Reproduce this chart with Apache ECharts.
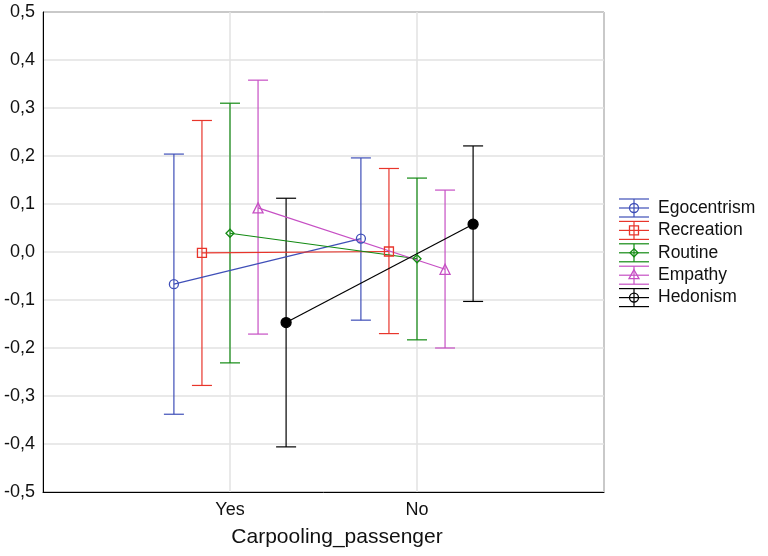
<!DOCTYPE html>
<html>
<head>
<meta charset="utf-8">
<script src="https://cdn.jsdelivr.net/npm/echarts@6/dist/echarts.min.js"></script>
<style>
  html, body { margin: 0; padding: 0; background: #fff; }
  #chart { width: 768px; height: 556px; }
</style>
</head>
<body>
<div id="chart"></div>
<script>
// Group levels on the horizontal axis
const categories = ['Yes', 'No'];
const axisTitle = 'Carpooling_passenger';

// Factor scores: mean and confidence limits for each group (Yes, No)
const seriesNames = ['Egocentrism', 'Recreation', 'Routine', 'Empathy', 'Hedonism'];
const egocentrismMean  = [-0.067, 0.028];
const egocentrismLow   = [-0.338, -0.142];
const egocentrismHigh  = [0.204, 0.196];
const recreationMean   = [-0.002, 0.001];
const recreationLow    = [-0.278, -0.170];
const recreationHigh   = [0.274, 0.174];
const routineMean      = [0.039, -0.014];
const routineLow       = [-0.231, -0.183];
const routineHigh      = [0.310, 0.154];
const empathyMean      = [0.092, -0.036];
const empathyLow       = [-0.171, -0.200];
const empathyHigh      = [0.358, 0.129];
const hedonismMean     = [-0.147, 0.058];
const hedonismLow      = [-0.406, -0.103];
const hedonismHigh     = [0.112, 0.221];

// Y-axis tick values
const yTicks = [-0.5, -0.4, -0.3, -0.2, -0.1, 0.0, 0.1, 0.2, 0.3, 0.4, 0.5];

const means = [egocentrismMean, recreationMean, routineMean, empathyMean, hedonismMean];
const lows  = [egocentrismLow, recreationLow, routineLow, empathyLow, hedonismLow];
const highs = [egocentrismHigh, recreationHigh, routineHigh, empathyHigh, hedonismHigh];

const colors  = ['#3f4fb8', '#e8352b', '#128a12', '#c64fc4', '#000000'];
const symbols = ['circle', 'rect', 'diamond', 'triangle', 'circle'];
const symbolSizes = [9, 9, 8, 10, 10];
const filled = [false, false, false, false, true];
// horizontal spread of the series inside each group
const offsets = [-0.3, -0.15, 0, 0.15, 0.3];

const FONT = 'Liberation Sans, Arial, sans-serif';
const chart = echarts.init(document.getElementById('chart'));

const series = [];
seriesNames.forEach((name, i) => {
  const c = colors[i];
  // error bars (vertical line + caps)
  series.push({
    name: name + ' CI',
    type: 'custom',
    silent: true,
    z: 2,
    data: categories.map((_, k) => [k + 1 + offsets[i], lows[i][k], highs[i][k]]),
    renderItem: function (params, api) {
      const x = api.value(0);
      const top = api.coord([x, api.value(2)]);
      const bot = api.coord([x, api.value(1)]);
      const hw = 10;
      const st = { stroke: c, lineWidth: 1.2 };
      return {
        type: 'group',
        children: [
          { type: 'line', shape: { x1: top[0], y1: top[1], x2: bot[0], y2: bot[1] }, style: st },
          { type: 'line', shape: { x1: top[0] - hw, y1: top[1], x2: top[0] + hw, y2: top[1] }, style: st },
          { type: 'line', shape: { x1: bot[0] - hw, y1: bot[1], x2: bot[0] + hw, y2: bot[1] }, style: st }
        ]
      };
    }
  });
  // means joined across groups
  series.push({
    name: name,
    type: 'line',
    z: 3,
    data: categories.map((_, k) => [k + 1 + offsets[i], means[i][k]]),
    symbol: symbols[i],
    symbolSize: symbolSizes[i],
    showAllSymbol: true,
    lineStyle: { color: c, width: 1.2 },
    itemStyle: {
      color: filled[i] ? c : 'rgba(255,255,255,0)',
      borderColor: c,
      borderWidth: 1.3
    },
    emphasis: { disabled: true },
    animation: false
  });
});

// legend drawn as error-bar glyphs
const legendChildren = [];
const legendX = 619, legendY0 = 208, legendStep = 22.4;
seriesNames.forEach((name, i) => {
  const y = legendY0 + i * legendStep;
  const c = colors[i];
  const st = { stroke: c, lineWidth: 1.2 };
  legendChildren.push(
    { type: 'line', shape: { x1: legendX, y1: y - 9, x2: legendX + 30, y2: y - 9 }, style: st },
    { type: 'line', shape: { x1: legendX, y1: y, x2: legendX + 30, y2: y }, style: st },
    { type: 'line', shape: { x1: legendX, y1: y + 9, x2: legendX + 30, y2: y + 9 }, style: st },
    { type: 'line', shape: { x1: legendX + 15, y1: y - 9, x2: legendX + 15, y2: y + 9 }, style: st }
  );
  const mx = legendX + 15;
  const mstyle = { fill: 'rgba(255,255,255,0)', stroke: c, lineWidth: 1.3 };
  if (symbols[i] === 'circle') {
    legendChildren.push({ type: 'circle', shape: { cx: mx, cy: y, r: 4.5 }, style: mstyle });
  } else if (symbols[i] === 'rect') {
    legendChildren.push({ type: 'rect', shape: { x: mx - 4.5, y: y - 4.5, width: 9, height: 9 }, style: mstyle });
  } else if (symbols[i] === 'diamond') {
    legendChildren.push({ type: 'polygon', shape: { points: [[mx, y - 4], [mx + 4, y], [mx, y + 4], [mx - 4, y]] }, style: mstyle });
  } else {
    legendChildren.push({ type: 'polygon', shape: { points: [[mx, y - 5.5], [mx + 5, y + 3.5], [mx - 5, y + 3.5]] }, style: mstyle });
  }
  legendChildren.push({
    type: 'text', x: legendX + 39, y: y,
    style: { text: name, fill: '#111', font: '17.5px ' + FONT, textVerticalAlign: 'middle' }
  });
});

chart.setOption({
  animation: false,
  backgroundColor: '#ffffff',
  grid: { left: 43, top: 12, right: 164, bottom: 64, show: true, borderColor: '#000', borderWidth: 1, containLabel: false },
  xAxis: {
    type: 'value',
    min: 0, max: categories.length + 1, interval: 1,
    axisLine: { onZero: false, lineStyle: { color: '#000', width: 1 } },
    axisTick: { show: false },
    splitLine: { show: true, lineStyle: { color: '#e2e2e2', width: 1.5 } },
    axisLabel: {
      color: '#111', fontSize: 18, fontFamily: FONT, margin: 9,
      formatter: v => (v >= 1 && v <= categories.length ? categories[Math.round(v) - 1] : '')
    }
  },
  yAxis: {
    type: 'value',
    min: yTicks[0], max: yTicks[yTicks.length - 1], interval: 0.1,
    axisLine: { show: true, onZero: false, lineStyle: { color: '#000', width: 1 } },
    axisTick: { show: false },
    splitLine: { show: true, lineStyle: { color: '#e2e2e2', width: 1.5 } },
    axisLabel: {
      color: '#111', fontSize: 18, fontFamily: FONT, margin: 8,
      formatter: v => {
        const s = Math.abs(v) < 1e-9 ? '0.0' : v.toFixed(1);
        return s.replace('.', ',');
      }
    }
  },
  graphic: [
    { type: 'group', children: legendChildren },
    {
      type: 'text', x: 337, y: 537,
      style: { text: axisTitle, fill: '#111', font: '21px ' + FONT, textAlign: 'center', textVerticalAlign: 'middle' }
    }
  ],
  series: series
});
</script>
</body>
</html>
